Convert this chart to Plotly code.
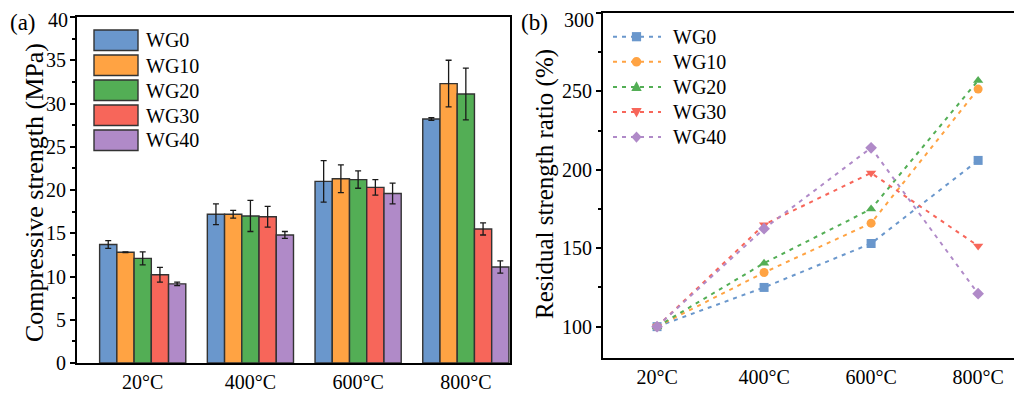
import plotly.graph_objects as go

temps = ["20°C", "400°C", "600°C", "800°C"]
series = ["WG0", "WG10", "WG20", "WG30", "WG40"]
colors = ["#6A97CC", "#FFA343", "#53AE55", "#F7665A", "#B08AC8"]

strength = {
    "WG0":  [13.7, 17.2, 21.0, 28.2],
    "WG10": [12.8, 17.2, 21.3, 32.3],
    "WG20": [12.1, 17.0, 21.2, 31.1],
    "WG30": [10.2, 16.9, 20.3, 15.5],
    "WG40": [9.15, 14.8, 19.6, 11.1],
}
strength_err = {
    "WG0":  [0.45, 1.2, 2.4, 0.15],
    "WG10": [0.05, 0.45, 1.6, 2.7],
    "WG20": [0.75, 1.8, 1.0, 3.0],
    "WG30": [0.85, 1.2, 0.9, 0.7],
    "WG40": [0.2, 0.4, 1.2, 0.7],
}
ratio = {
    "WG0":  [100, 125.0, 153.0, 206.0],
    "WG10": [100, 134.5, 166.0, 251.5],
    "WG20": [100, 140.5, 175.0, 257.0],
    "WG30": [100, 165.0, 198.0, 151.5],
    "WG40": [100, 162.5, 214.0, 121.0],
}
symbols = ["square", "circle", "triangle-up", "triangle-down", "diamond"]

ticks_a = [0, 5, 10, 15, 20, 25, 30, 35, 40]
ticks_b = [100, 150, 200, 250, 300]

FONT = "Liberation Serif"
OFF = 8                      # page body margin
W, H = 1022 - OFF, 393 - OFF


def px(x):
    return (x - OFF) / W


def py(y):
    return 1 - (y - OFF) / H


fig = go.Figure()

for name, col in zip(series, colors):
    fig.add_trace(go.Bar(
        x=temps, y=strength[name], name=name, showlegend=False,
        marker=dict(color=col, line=dict(color="#333333", width=1.4)),
        error_y=dict(type="data", array=strength_err[name], color="#1a1a1a",
                     thickness=1.3, width=3),
        xaxis="x", yaxis="y",
    ))

for name, col, sym in zip(series, colors, symbols):
    fig.add_trace(go.Scatter(
        x=temps, y=ratio[name], name=name, mode="lines+markers", showlegend=False,
        line=dict(color=col, width=2, dash="4px,5px"),
        marker=dict(symbol=sym, size=9, color=col),
        xaxis="x2", yaxis="y2",
    ))

shapes = []
annotations = []

# legend for panel (a): large patches
for i, (name, col) in enumerate(zip(series, colors)):
    top = 30 + i * 25
    shapes.append(dict(type="rect", xref="paper", yref="paper",
                       x0=px(94), x1=px(138), y0=py(top + 20.5), y1=py(top),
                       fillcolor=col, line=dict(color="#333333", width=1.4)))
    annotations.append(dict(text=name, xref="paper", yref="paper",
                            x=px(144), y=py(top + 10.5),
                            xanchor="left", yanchor="middle", showarrow=False,
                            font=dict(family=FONT, size=20, color="black")))


# legend for panel (b): dashed line + marker glyph
def glyph(sym, cx, cy, r=4.6):
    if sym == "square":
        pts = [(cx - r, cy - r), (cx + r, cy - r), (cx + r, cy + r), (cx - r, cy + r)]
    elif sym == "triangle-up":
        pts = [(cx, cy - r - 1), (cx + r + 0.6, cy + r - 0.5), (cx - r - 0.6, cy + r - 0.5)]
    elif sym == "triangle-down":
        pts = [(cx, cy + r + 1), (cx + r + 0.6, cy - r + 0.5), (cx - r - 0.6, cy - r + 0.5)]
    elif sym == "diamond":
        pts = [(cx, cy - r - 1), (cx + r + 0.5, cy), (cx, cy + r + 1), (cx - r - 0.5, cy)]
    else:
        return None
    return "M " + " L ".join(f"{px(a):.5f},{py(b):.5f}" for a, b in pts) + " Z"


for i, (name, col, sym) in enumerate(zip(series, colors, symbols)):
    cy = 36.7 + i * 25.1
    shapes.append(dict(type="line", xref="paper", yref="paper",
                       x0=px(613), x1=px(661), y0=py(cy), y1=py(cy),
                       line=dict(color=col, width=2, dash="4px,5px")))
    if sym == "circle":
        r = 4.8
        shapes.append(dict(type="circle", xref="paper", yref="paper",
                           x0=px(636.5 - r), x1=px(636.5 + r),
                           y0=py(cy + r), y1=py(cy - r),
                           fillcolor=col, line=dict(width=0)))
    else:
        shapes.append(dict(type="path", xref="paper", yref="paper",
                           path=glyph(sym, 636.5, cy),
                           fillcolor=col, line=dict(width=0)))
    annotations.append(dict(text=name, xref="paper", yref="paper",
                            x=px(671), y=py(cy),
                            xanchor="left", yanchor="middle", showarrow=False,
                            font=dict(family=FONT, size=20, color="black")))

annotations.append(dict(text="(a)", xref="paper", yref="paper", x=px(8), y=py(22),
                        xanchor="left", yanchor="middle", showarrow=False,
                        font=dict(family=FONT, size=23, color="black")))
annotations.append(dict(text="(b)", xref="paper", yref="paper", x=px(519), y=py(22),
                        xanchor="left", yanchor="middle", showarrow=False,
                        font=dict(family=FONT, size=23, color="black")))
annotations.append(dict(text="Compressive strength (MPa)", xref="paper", yref="paper",
                        x=px(34), y=py(193), xanchor="center", yanchor="middle",
                        textangle=-90, showarrow=False,
                        font=dict(family=FONT, size=26, color="black")))
annotations.append(dict(text="Residual strength ratio (%)", xref="paper", yref="paper",
                        x=px(545), y=py(184), xanchor="center", yanchor="middle",
                        textangle=-90, showarrow=False,
                        font=dict(family=FONT, size=25, color="black")))

# top tick labels kept fully inside the page (they would be clipped at the edge)
annotations.append(dict(text=str(ticks_a[-1]), xref="paper", yref="paper",
                        x=px(69), y=1, xanchor="right", yanchor="top", showarrow=False,
                        borderpad=0, font=dict(family=FONT, size=20, color="black")))
annotations.append(dict(text=str(ticks_b[-1]), xref="paper", yref="paper",
                        x=px(595), y=1, xanchor="right", yanchor="top", showarrow=False,
                        borderpad=0, font=dict(family=FONT, size=20, color="black")))

axis_common = dict(showline=True, linecolor="black", linewidth=2, automargin=False,
                   ticklabeloverflow="allow",
                   tickfont=dict(family=FONT, size=20, color="black"),
                   showgrid=False, zeroline=False)

fig.update_layout(
    width=W, height=H,
    margin=dict(l=0, r=0, t=0, b=0, autoexpand=False),
    plot_bgcolor="white", paper_bgcolor="white",
    barmode="group", bargap=0.2, bargroupgap=0,
    font=dict(family=FONT, color="black"),
    showlegend=False,
    shapes=shapes, annotations=annotations,
    xaxis=dict(domain=[px(77), px(510)], type="category", range=[-0.61, 3.41],
               mirror=True, ticks="", anchor="y", **axis_common),
    yaxis=dict(domain=[py(363), py(17)], range=[0, 40],
               tickvals=ticks_a, ticktext=[str(t) for t in ticks_a[:-1]] + [""],
               mirror=True, ticks="outside", ticklen=5, tickwidth=1.5, tickcolor="black",
               minor=dict(dtick=2.5, ticks="outside", ticklen=3, tickwidth=1.5, tickcolor="black"),
               anchor="x", **axis_common),
    xaxis2=dict(domain=[px(603), 1.0], type="category", range=[-0.505, 3.41],
                mirror=True, ticks="", anchor="y2", **axis_common),
    yaxis2=dict(domain=[py(358), py(13)], range=[80, 300],
                tickvals=ticks_b, ticktext=[str(t) for t in ticks_b[:-1]] + [""],
                mirror=False, ticks="outside", ticklen=5, tickwidth=1.5, tickcolor="black",
                minor=dict(dtick=25, ticks="outside", ticklen=3, tickwidth=1.5, tickcolor="black"),
                anchor="x2", **axis_common),
)

fig.write_html("out.html")
